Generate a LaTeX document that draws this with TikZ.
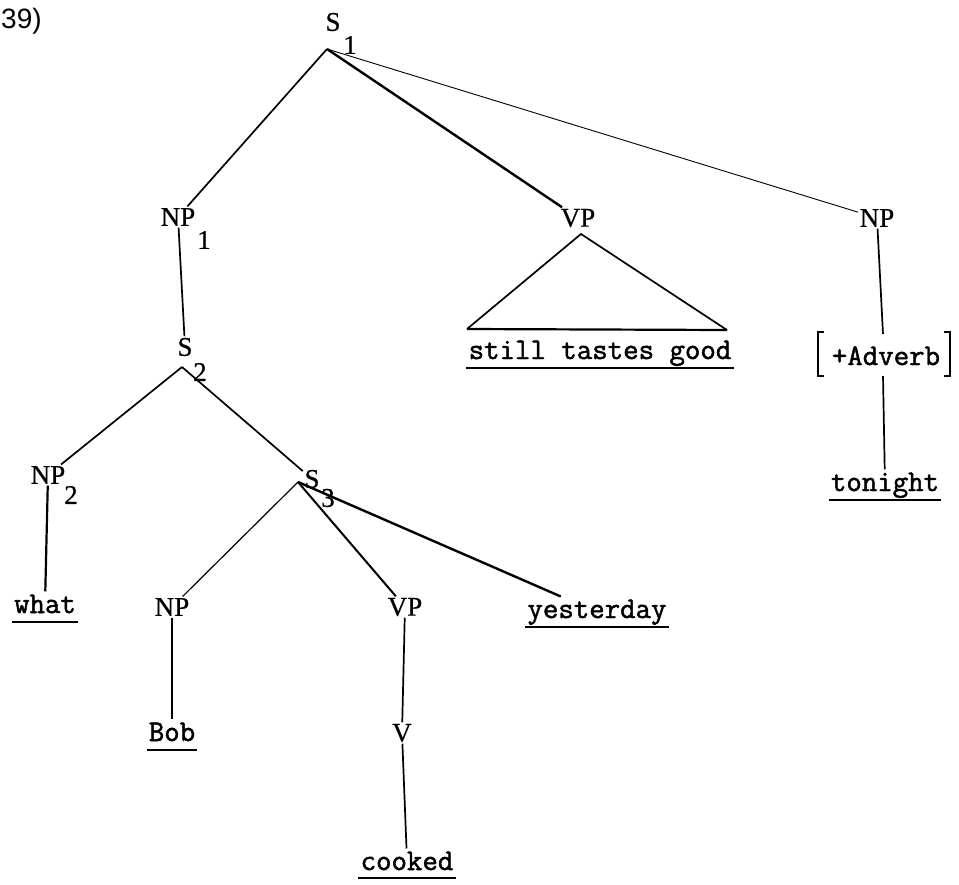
\documentclass[tikz,border=0pt]{standalone}
\usepackage{fontspec}
\setmainfont{Liberation Serif}
\newfontfamily\catfont{Liberation Serif}[FakeBold=0.6]
\newfontfamily\twfont{Latin Modern Mono}[FakeBold=1.6]
\newfontfamily\numfont{Liberation Sans}
\begin{document}
\begin{tikzpicture}[x=1pt,y=-1pt,
  cat/.style={font=\fontsize{27}{29}\selectfont\catfont, inner sep=1.5pt},
  subnum/.style={font=\fontsize{27}{29}\selectfont\catfont, inner sep=0pt},
  word/.style={font=\fontsize{30}{32}\selectfont\twfont, anchor=base, inner xsep=0pt, inner ysep=3pt},
  br/.style={line width=1.5pt},
  edge/.style={line width=1.7pt},
  uline/.style={line width=2.8pt}]
\useasboundingbox (0,0) rectangle (959,884);
\fill[white] (0,0) rectangle (959,884);

\node[font=\fontsize{28}{30}\selectfont\numfont, anchor=west, inner sep=0pt] (lbl) at (1,21) {39)};

% category labels
\node[cat] (s1) at (333,22) {S};
\node[subnum] (s1n) at (350,45) {1};
\coordinate (s1a) at (327,49);

\node[cat] (np1) at (178,217) {NP};
\node[subnum] (np1n) at (204,240) {1};

\node[cat] (vpt) at (578,218) {VP};
\node[cat] (npr) at (877,218) {NP};

\node[cat] (s2) at (185,347) {S};
\node[subnum] (s2n) at (200,372) {2};
\coordinate (s2a) at (182,367);

\node[cat] (np2) at (48,475) {NP};
\node[subnum] (np2n) at (71,495) {2};

\node[cat] (s3) at (312,479) {S};
\node[subnum] (s3n) at (328,498) {3};
\coordinate (s3a) at (298,482);

\node[cat] (np3) at (172,607) {NP};
\node[cat] (vp3) at (405,607) {VP};
\node[cat] (v) at (402,733) {V};

% words
\node[word] (stg) at (600,359) {still tastes good};
\node[word] (adv) at (886,365) {+Adverb};
\node[word] (ton) at (885,491) {tonight};
\node[word] (what) at (45,613) {what};
\node[word] (yes) at (597,618) {yesterday};
\node[word] (bob) at (172,741) {Bob};
\node[word] (ckd) at (407,870) {cooked};

% underlines
\foreach \w/\d in {stg/9, ton/9, what/9, yes/9, bob/9, ckd/8}{
  \draw[uline] ([yshift=-\d pt, xshift=-2pt]\w.base west) -- ([yshift=-\d pt, xshift=2pt]\w.base east);
}

% brackets around +Adverb
\coordinate (lbt) at (818,332);
\coordinate (lbb) at (818,376);
\coordinate (rbt) at (950,332);
\coordinate (rbb) at (950,376);
\draw[br] ([xshift=6pt]lbt) -- (lbt) -- (lbb) -- ([xshift=6pt]lbb);
\draw[br] ([xshift=-6pt]rbt) -- (rbt) -- (rbb) -- ([xshift=-6pt]rbb);

% triangle
\coordinate (tl) at (467,329);
\coordinate (tr) at (727,330);
\coordinate (vpa) at (581,234);
\draw[edge] (tl) -- (vpa) -- (tr);
\draw[line width=2.2pt] (tl) -- (tr);

% edges
\draw[edge] (s1a) -- (np1);
\draw[line width=2.4pt] (s1a) -- (vpt);
\draw[line width=0.9pt] (s1a) -- (npr);
\draw[edge] (np1) -- (s2);
\draw[edge] (s2a) -- (np2);
\draw[edge] (s2a) -- (s3);
\draw[line width=2.2pt] (np2) -- (what);
\draw[line width=1.2pt] (s3a) -- (np3);
\draw[line width=2pt] (s3a) -- (vp3);
\draw[line width=2.4pt] (s3a) -- (yes);
\draw[line width=1.2pt] (np3) -- (bob);
\draw[edge] (vp3) -- (v);
\draw[edge] (v) -- (ckd);
\draw[edge] (npr) -- (883,334);
\draw[edge] (883,376) -- (ton);
\end{tikzpicture}
\end{document}
